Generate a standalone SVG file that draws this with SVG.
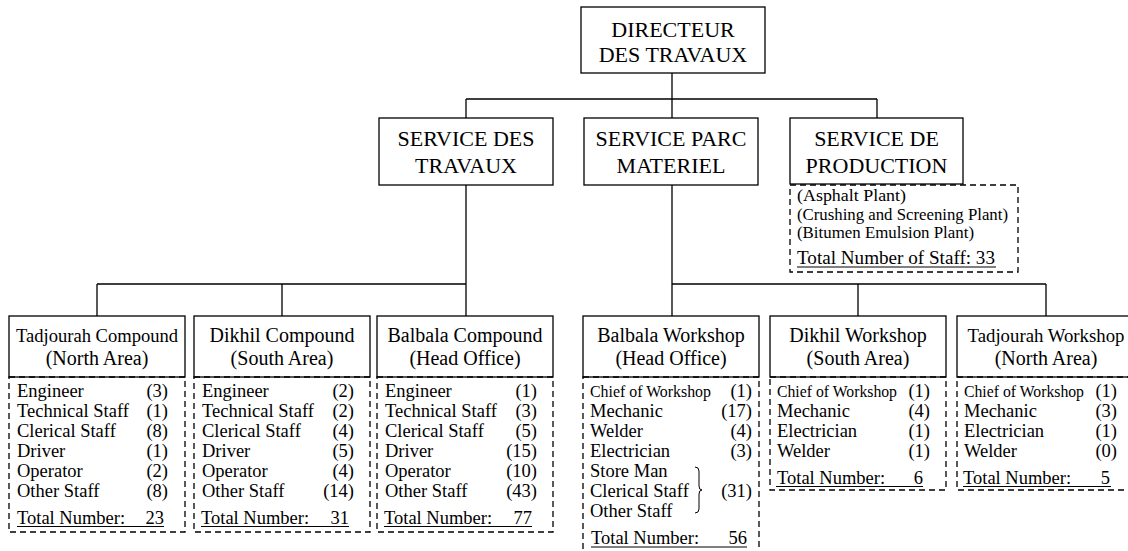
<svg xmlns="http://www.w3.org/2000/svg" width="1128" height="551" viewBox="0 0 1128 551" font-family="'Liberation Serif', 'Times New Roman', 'DejaVu Serif', serif">
<style>
text{fill:#000}
.box{fill:#fff;stroke:#000;stroke-width:1.3}
.dash{fill:none;stroke:#000;stroke-width:1.3;stroke-dasharray:6 4}
.line{fill:none;stroke:#000;stroke-width:1.3}
.ul{stroke:#000;stroke-width:1.2}
.big{font-size:22px;text-anchor:middle}
.ttl{font-size:20px;text-anchor:middle}
.ttl2{font-size:19px;text-anchor:middle}
.it{font-size:18.5px}
.chief{font-size:16.5px}
.num{font-size:18.5px;text-anchor:end}
.sm{font-size:17px}
</style>
<rect width="1128" height="551" fill="#fff"/>
<g id="connectors">
<path class="line" d="M672 73V99M466 99H877M466 99V118M672 99V118M877 99V118"/>
<path class="line" d="M466 185V316M97 284H466M97 284V316M282 284V316"/>
<path class="line" d="M672 185V316M672 284H1046M858 284V316M1046 284V316"/>
</g>
<g id="directeur">
<rect class="box" x="581" y="7" width="184" height="66"/>
<text class="big" x="673" y="37">DIRECTEUR</text>
<text class="big" x="673" y="62">DES TRAVAUX</text>
</g>
<g id="service-travaux">
<rect class="box" x="379" y="118" width="174" height="67"/>
<text class="big" x="466" y="146">SERVICE DES</text>
<text class="big" x="466" y="173">TRAVAUX</text>
</g>
<g id="service-parc">
<rect class="box" x="584" y="118" width="174" height="67"/>
<text class="big" x="671" y="146">SERVICE PARC</text>
<text class="big" x="671" y="173">MATERIEL</text>
</g>
<g id="service-production">
<rect class="box" x="790" y="118" width="173" height="66"/>
<text class="big" x="876.5" y="146">SERVICE DE</text>
<text class="big" x="876.5" y="173">PRODUCTION</text>
<rect class="dash" x="790" y="185" width="228" height="87"/>
<text class="sm" x="797" y="201" textLength="109" lengthAdjust="spacingAndGlyphs">(Asphalt Plant)</text>
<text class="sm" x="797" y="220" textLength="211" lengthAdjust="spacingAndGlyphs">(Crushing and Screening Plant)</text>
<text class="sm" x="797" y="238" textLength="177" lengthAdjust="spacingAndGlyphs">(Bitumen Emulsion Plant)</text>
<text class="it" x="797" y="264" textLength="198" lengthAdjust="spacingAndGlyphs">Total Number of Staff: 33</text>
<line class="ul" x1="797" y1="267" x2="996" y2="267"/>
</g>
<g id="tadjourah-compound">
<rect class="box" x="9" y="316" width="176" height="61"/>
<text class="ttl2" x="97" y="342" textLength="162" lengthAdjust="spacingAndGlyphs">Tadjourah Compound</text>
<text class="ttl" x="97" y="365">(North Area)</text>
<rect class="dash" x="9" y="377" width="176" height="155"/>
<text class="it" x="17" y="397">Engineer</text><text class="num" x="168" y="397">(3)</text>
<text class="it" x="17" y="417">Technical Staff</text><text class="num" x="168" y="417">(1)</text>
<text class="it" x="17" y="437">Clerical Staff</text><text class="num" x="168" y="437">(8)</text>
<text class="it" x="17" y="457">Driver</text><text class="num" x="168" y="457">(1)</text>
<text class="it" x="17" y="477">Operator</text><text class="num" x="168" y="477">(2)</text>
<text class="it" x="17" y="497">Other Staff</text><text class="num" x="168" y="497">(8)</text>
<text class="it" x="17" y="523.5">Total Number:</text><text class="num" x="164" y="523.5">23</text>
<line class="ul" x1="17" y1="526.5" x2="164" y2="526.5"/>
</g>
<g id="dikhil-compound">
<rect class="box" x="194" y="316" width="176" height="61"/>
<text class="ttl" x="282" y="342">Dikhil Compound</text>
<text class="ttl" x="282" y="365">(South Area)</text>
<rect class="dash" x="194" y="377" width="176" height="155"/>
<text class="it" x="202" y="397">Engineer</text><text class="num" x="354" y="397">(2)</text>
<text class="it" x="202" y="417">Technical Staff</text><text class="num" x="354" y="417">(2)</text>
<text class="it" x="202" y="437">Clerical Staff</text><text class="num" x="354" y="437">(4)</text>
<text class="it" x="202" y="457">Driver</text><text class="num" x="354" y="457">(5)</text>
<text class="it" x="202" y="477">Operator</text><text class="num" x="354" y="477">(4)</text>
<text class="it" x="202" y="497">Other Staff</text><text class="num" x="354" y="497">(14)</text>
<text class="it" x="201" y="523.5">Total Number:</text><text class="num" x="349" y="523.5">31</text>
<line class="ul" x1="201" y1="526.5" x2="349" y2="526.5"/>
</g>
<g id="balbala-compound">
<rect class="box" x="377" y="316" width="176" height="61"/>
<text class="ttl" x="465" y="342">Balbala Compound</text>
<text class="ttl" x="465" y="365">(Head Office)</text>
<rect class="dash" x="377" y="377" width="176" height="155"/>
<text class="it" x="385" y="397">Engineer</text><text class="num" x="537" y="397">(1)</text>
<text class="it" x="385" y="417">Technical Staff</text><text class="num" x="537" y="417">(3)</text>
<text class="it" x="385" y="437">Clerical Staff</text><text class="num" x="537" y="437">(5)</text>
<text class="it" x="385" y="457">Driver</text><text class="num" x="537" y="457">(15)</text>
<text class="it" x="385" y="477">Operator</text><text class="num" x="537" y="477">(10)</text>
<text class="it" x="385" y="497">Other Staff</text><text class="num" x="537" y="497">(43)</text>
<text class="it" x="384" y="523.5">Total Number:</text><text class="num" x="532" y="523.5">77</text>
<line class="ul" x1="384" y1="526.5" x2="532" y2="526.5"/>
</g>
<g id="balbala-workshop">
<rect class="box" x="583" y="316" width="176" height="61"/>
<text class="ttl" x="671" y="342">Balbala Workshop</text>
<text class="ttl" x="671" y="365">(Head Office)</text>
<rect class="dash" x="583" y="377" width="176" height="190"/>
<text class="chief" x="590" y="397" textLength="121" lengthAdjust="spacingAndGlyphs">Chief of Workshop</text><text class="num" x="752" y="397">(1)</text>
<text class="it" x="590" y="417">Mechanic</text><text class="num" x="752" y="417">(17)</text>
<text class="it" x="590" y="437">Welder</text><text class="num" x="752" y="437">(4)</text>
<text class="it" x="590" y="457">Electrician</text><text class="num" x="752" y="457">(3)</text>
<text class="it" x="590" y="477">Store Man</text>
<text class="it" x="590" y="497">Clerical Staff</text>
<text class="it" x="590" y="517">Other Staff</text>
<path fill="none" stroke="#000" stroke-width="1" d="M695 467Q699 467 699 471V486Q699 490 702 490Q699 490 699 494V509Q699 513 695 513"/>
<text class="num" x="752" y="497">(31)</text>
<text class="it" x="591" y="544">Total Number:</text><text class="num" x="747" y="544">56</text>
<line class="ul" x1="591" y1="547" x2="747" y2="547"/>
</g>
<g id="dikhil-workshop">
<rect class="box" x="770" y="316" width="176" height="61"/>
<text class="ttl" x="858" y="342">Dikhil Workshop</text>
<text class="ttl" x="858" y="365">(South Area)</text>
<rect class="dash" x="770" y="377" width="176" height="113"/>
<text class="chief" x="777" y="397" textLength="120" lengthAdjust="spacingAndGlyphs">Chief of Workshop</text><text class="num" x="930" y="397">(1)</text>
<text class="it" x="777" y="417">Mechanic</text><text class="num" x="930" y="417">(4)</text>
<text class="it" x="777" y="437">Electrician</text><text class="num" x="930" y="437">(1)</text>
<text class="it" x="777" y="457">Welder</text><text class="num" x="930" y="457">(1)</text>
<text class="it" x="777" y="483.5">Total Number:</text><text class="num" x="923" y="483.5">6</text>
<line class="ul" x1="776" y1="486.5" x2="923" y2="486.5"/>
</g>
<g id="tadjourah-workshop">
<rect class="box" x="957" y="316" width="177" height="61"/>
<text class="ttl2" x="1046" y="342" textLength="157" lengthAdjust="spacingAndGlyphs">Tadjourah Workshop</text>
<text class="ttl" x="1046" y="365">(North Area)</text>
<rect class="dash" x="957" y="377" width="177" height="113"/>
<text class="chief" x="964" y="397" textLength="120" lengthAdjust="spacingAndGlyphs">Chief of Workshop</text><text class="num" x="1117" y="397">(1)</text>
<text class="it" x="964" y="417">Mechanic</text><text class="num" x="1117" y="417">(3)</text>
<text class="it" x="964" y="437">Electrician</text><text class="num" x="1117" y="437">(1)</text>
<text class="it" x="964" y="457">Welder</text><text class="num" x="1117" y="457">(0)</text>
<text class="it" x="963" y="483.5">Total Number:</text><text class="num" x="1110" y="483.5">5</text>
<line class="ul" x1="963" y1="486.5" x2="1111" y2="486.5"/>
</g>
</svg>
